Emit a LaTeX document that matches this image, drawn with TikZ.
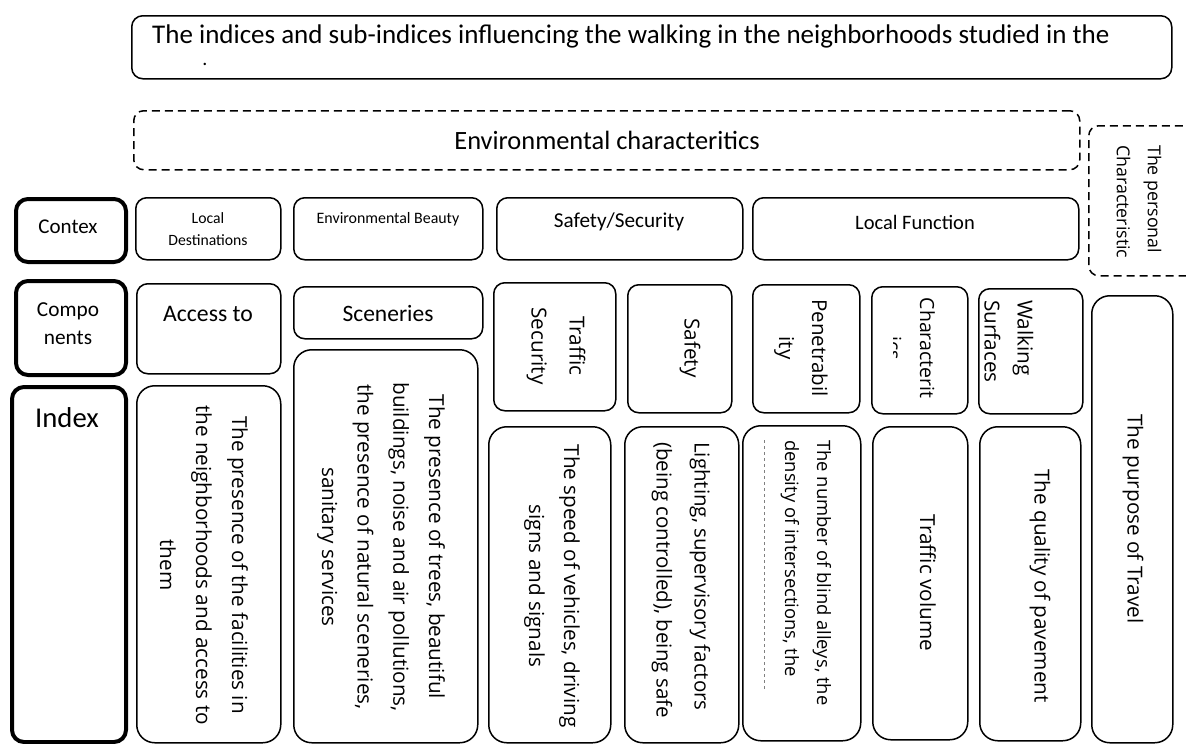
\documentclass[tikz,border=0pt]{standalone}
\usepackage{fontspec}
\setmainfont{Carlito}
\newfontfamily\osf{Open Sans}
\newcommand\fsz[2]{\fontsize{#1}{#2}\selectfont}
\newcommand\rb[6]{\node[#1,anchor=north west,minimum width={#5-#3},minimum height={#6-#4},inner sep=0pt] (#2) at (#3,#4) {};}
\begin{document}
\begin{tikzpicture}[x=1pt,y=-1pt,
  box/.style={draw,line width=1.5pt,rounded corners=11pt},
  tallbox/.style={draw,line width=1.5pt,rounded corners=18pt},
  thickbox/.style={draw,line width=4pt,rounded corners=12pt},
  dbox/.style={draw,line width=1.5pt,dash pattern=on 8pt off 5pt,rounded corners=10pt},
  ct/.style={inner sep=0pt,align=center},
  vt/.style={inner sep=0pt,rotate=-90,align=center}]
\useasboundingbox (0,0) rectangle (1186,744);
% boxes
\rb{box}{title}{131}{15}{1171}{78}
\rb{dbox}{env}{133}{110}{1079}{169}
\rb{dbox}{pers}{1088}{125}{1205}{275}
\rb{thickbox}{contex}{14}{197}{124}{260}
\rb{box}{ld}{135}{197}{280}{259}
\rb{box}{eb}{293}{197}{482}{259}
\rb{box}{ss}{496}{197}{742}{259}
\rb{box}{lf}{752}{197}{1078}{259}
\rb{thickbox}{compo}{14}{279}{124}{373}
\rb{box}{acc}{136}{283}{280}{373}
\rb{box}{scen}{293}{286}{482}{338}
\rb{box}{ts}{493}{282}{615}{410}
\rb{box}{saf}{627}{284}{731}{412}
\rb{box}{pen}{752}{284}{859}{412}
\rb{box}{chr}{871}{286}{967}{413}
\rb{box}{ws}{978}{288}{1082}{413}
\rb{tallbox}{purp}{1091}{295}{1172}{742}
\rb{thickbox}{index}{10}{385}{124}{740}
\rb{tallbox}{iacc}{136}{385}{280}{742}
\rb{tallbox}{iscen}{293}{349}{477}{742}
\rb{tallbox}{ispeed}{488}{426}{610}{742}
\rb{tallbox}{ilight}{624}{426}{738}{742}
\rb{tallbox}{iblind}{742}{425}{860}{740}
\rb{tallbox}{ivol}{872}{426}{967}{739}
\rb{tallbox}{iqual}{979}{426}{1080}{740}
% horizontal texts
\node[inner sep=0pt,anchor=west,font=\fsz{27}{32}] (ttitle) at (152,36) {The indices and sub-indices influencing the walking in the neighborhoods studied in the};
\node[inner sep=0pt,font=\fsz{20}{24}] (tdot) at (205,64) {.};
\node[ct,font=\fsz{26.4}{32}] (tenv) at (607,140) {Environmental characteritics};
\node[vt,anchor=west,align=left,font={\osf\fsz{17.8}{31}}] (tpers) at (1139,145) {The personal\\Characteristic};
\node[ct,font=\fsz{21}{26}] (tcontex) at (68,227) {Contex};
\node[ct,font=\fsz{15.7}{22}] (tld) at (208,229) {Local\\Destinations};
\node[ct,font=\fsz{15.9}{20}] (teb) at (388,219) {Environmental Beauty};
\node[ct,font=\fsz{21.2}{26}] (tss) at (619,222) {Safety/Security};
\node[ct,font=\fsz{20.5}{26}] (tlf) at (915,222) {Local Function};
\node[ct,font=\fsz{21.3}{28}] (tcompo) at (68,324) {Compo\\nents};
\node[ct,font=\fsz{23.7}{28}] (tacc) at (208,314) {Access to};
\node[ct,font=\fsz{23.5}{28}] (tscen) at (388,313) {Sceneries};
\node[ct,font=\fsz{28.7}{34}] (tindex) at (67,418) {Index};
% vertical texts, components
\node[vt,font={\osf\fsz{20.7}{38}}] (tts) at (556,346) {Traffic\\Security};
\node[vt,font={\osf\fsz{20.7}{33}}] (tsaf) at (690,348) {Safety};
\node[vt,font={\osf\fsz{20.5}{33}}] (tpen) at (801,348) {Penetrabil\\ity};
\begin{scope}
\clip (893,290) rectangle (965,410);
\node[vt,font={\osf\fsz{19.5}{33}}] (tchr) at (911,348) {Characterit\\ics};
\end{scope}
\node[vt,anchor=west,align=left,font={\osf\fsz{20.7}{33}}] (tws) at (1009,300) {Walking\\Surfaces};
% vertical texts, indices
\node[vt,font={\osf\fsz{20.7}{36}}] (tiacc) at (204,565) {The presence of the facilities in\\the neighborhoods and access to\\them};
\node[vt,font={\osf\fsz{20.7}{35.7}}] (tiscen) at (381,547) {The presence of trees, beautiful\\buildings, noise and air pollutions,\\the presence of natural sceneries,\\sanitary services};
\node[vt,font={\osf\fsz{20.7}{35}}] (tispeed) at (552,586) {The speed of vehicles, driving\\signs and signals};
\node[vt,anchor=west,align=left,font={\osf\fsz{20.5}{38}}] (tilight) at (681,442) {Lighting, supervisory factors\\(being controlled), being safe};
\node[vt,anchor=west,align=left,font={\osf\fsz{18.4}{32}}] (tiblind) at (806,440) {The number of blind alleys, the\\density of intersections, the};
\coordinate (bl1) at (764,440);
\coordinate (bl2) at (764,690);
\draw[gray,line width=0.7pt,dash pattern=on 3pt off 3pt] (bl1) -- (bl2);
\node[vt,font={\osf\fsz{20.7}{35}}] (tivol) at (928,583) {Traffic volume};
\node[vt,font={\osf\fsz{20.7}{35}}] (tiqual) at (1040,586) {The quality of pavement};
\node[vt,font={\osf\fsz{20.7}{35}}] (tpurp) at (1133,519) {The purpose of Travel};
\end{tikzpicture}
\end{document}
